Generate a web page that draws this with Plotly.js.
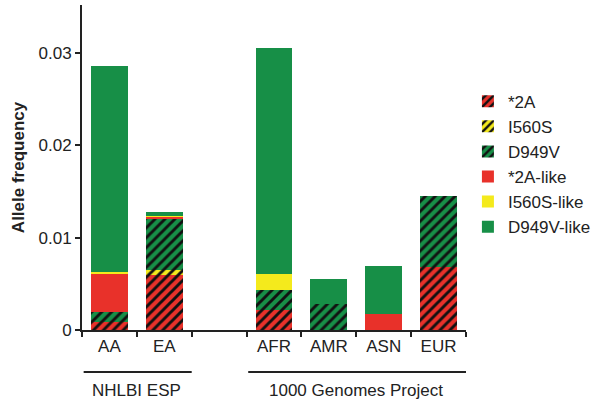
<!DOCTYPE html>
<html>
<head>
<meta charset="utf-8">
<script src="https://cdn.plot.ly/plotly-3.0.1.min.js"></script>
<style>
  html, body { margin: 0; padding: 0; background: #fff; }
  #chart { width: 601px; height: 403px; }
</style>
</head>
<body>
<div id="chart"></div>
<script>
// populations (the blank one is the gap between the two studies)
const populations = ['AA', 'EA', ' ', 'AFR', 'AMR', 'ASN', 'EUR'];

// allele frequencies, stacked bottom to top
const star2A      = [0.0009, 0.0060, 0, 0.0022, 0,      0,      0.0068];
const i560S       = [0,      0.0005, 0, 0,      0,      0,      0];
const d949V       = [0.0010, 0.0055, 0, 0.0021, 0.0028, 0,      0.0077];
const star2ALike  = [0.0042, 0.0002, 0, 0,      0,      0.0017, 0];
const i560SLike   = [0.0002, 0.00015, 0, 0.0018, 0,     0,      0];
const d949VLike   = [0.0223, 0.00048, 0, 0.0244, 0.0027, 0.0052, 0];

const yTicks = [0, 0.01, 0.02, 0.03];
const yTickText = ['0', '0.01', '0.02', '0.03'];

const RED = '#e8312a';
const YELLOW = '#f4ea1c';
const GREEN = '#178f47';
const FONT = 'Liberation Sans, Arial, Helvetica, sans-serif';

function series(name, values, color, hatched) {
    const marker = { color: color, line: { width: 0 } };
    if (hatched) {
        marker.pattern = { shape: '/', fgcolor: '#111', bgcolor: color, size: 7, solidity: 0.42 };
    }
    return { type: 'bar', name: name, x: populations, y: values, marker: marker, hoverinfo: 'name+y' };
}

const traces = [
    series('*2A', star2A, RED, true),
    series('I560S', i560S, YELLOW, true),
    series('D949V', d949V, GREEN, true),
    series('*2A-like', star2ALike, RED, false),
    series('I560S-like', i560SLike, YELLOW, false),
    series('D949V-like', d949VLike, GREEN, false)
];

const layout = {
    width: 601,
    height: 403,
    margin: { l: 82, r: 113, t: 5, b: 73 },
    paper_bgcolor: '#fff',
    plot_bgcolor: '#fff',
    font: { family: FONT, size: 17, color: '#222' },
    barmode: 'stack',
    bargap: 0.33,
    showlegend: true,
    legend: {
        x: 1.005, xanchor: 'left', y: 0.758, yanchor: 'top',
        traceorder: 'normal',
        font: { family: FONT, size: 17, color: '#222' },
        itemwidth: 30, bgcolor: 'rgba(0,0,0,0)'
    },
    xaxis: {
        type: 'category',
        categoryorder: 'array',
        categoryarray: populations,
        range: [-0.5, 6.5],
        tickson: 'boundaries',
        ticks: 'outside', ticklen: 5, tickwidth: 2, tickcolor: '#222',
        showline: true, linecolor: '#222', linewidth: 2,
        showgrid: false, zeroline: false,
        tickfont: { family: FONT, size: 17, color: '#222' }
    },
    yaxis: {
        range: [0, 0.0352],
        tickvals: yTicks, ticktext: yTickText,
        ticks: 'outside', ticklen: 5, tickwidth: 2, tickcolor: '#222',
        showline: true, linecolor: '#222', linewidth: 2,
        showgrid: false, zeroline: false,
        tickfont: { family: FONT, size: 17, color: '#222' },
        title: { text: '<b>Allele frequency</b>', font: { family: FONT, size: 17, color: '#222' }, standoff: 10 }
    },
    shapes: [
        { type: 'line', xref: 'x', yref: 'paper', x0: -0.47, x1: 1.5, y0: -0.129, y1: -0.129, line: { color: '#222', width: 2 } },
        { type: 'line', xref: 'x', yref: 'paper', x0: 2.53, x1: 6.53, y0: -0.129, y1: -0.129, line: { color: '#222', width: 2 } }
    ],
    annotations: [
        { text: 'NHLBI ESP', xref: 'x', yref: 'paper', x: 0.5, y: -0.185, yanchor: 'middle', showarrow: false, font: { family: FONT, size: 17, color: '#222' } },
        { text: '1000 Genomes Project', xref: 'x', yref: 'paper', x: 4.5, y: -0.185, yanchor: 'middle', showarrow: false, font: { family: FONT, size: 17, color: '#222' } }
    ]
};

Plotly.newPlot('chart', traces, layout, { displayModeBar: false, staticPlot: true });
</script>
</body>
</html>
